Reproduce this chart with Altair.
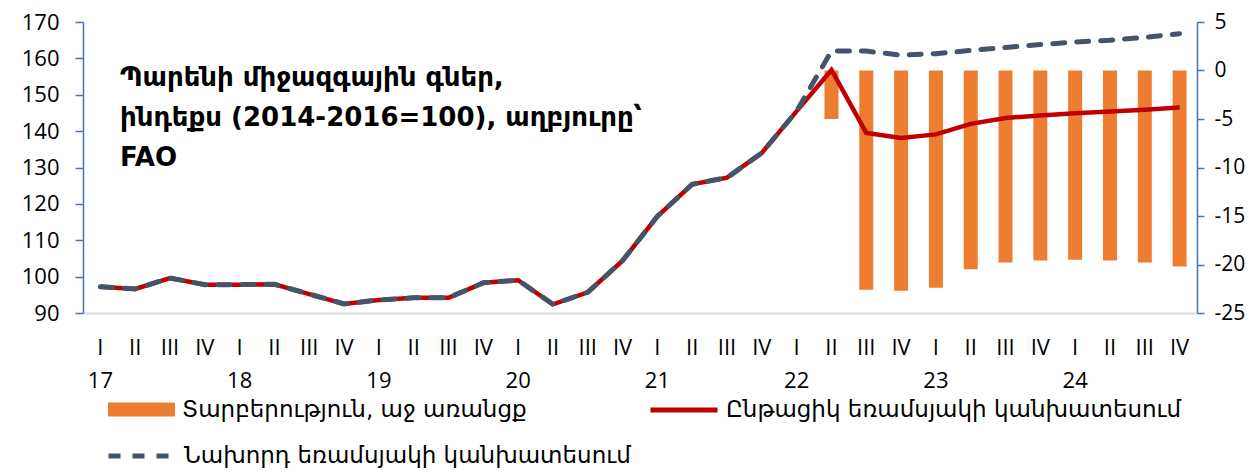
import altair as alt
import pandas as pd

# ---- data -------------------------------------------------------------
years = ["17", "18", "19", "20", "21", "22", "23", "24"]
quarters = ["I", "II", "III", "IV"]
periods = [f"{y} {q}" for y in years for q in quarters]

# common history 17Q1 .. 22Q1
history = [97.2, 96.6, 99.6, 97.8, 97.8, 97.9, 95.2, 92.5, 93.6, 94.2, 94.2,
           98.3, 99.0, 92.4, 95.7, 104.4, 116.6, 125.4, 127.2, 134.0, 145.5]
current_fc = [156.8, 139.5, 138.1, 139.1, 142.0, 143.6, 144.3, 144.9, 145.4, 145.9, 146.5]
previous_fc = [162.0, 162.0, 160.9, 161.3, 162.2, 163.0, 163.8, 164.5, 165.0, 165.8, 166.8]
difference = [None] * 19 + [0.0, 0.0] + [-5.0, -22.6, -22.7, -22.4, -20.5, -19.8,
                                          -19.6, -19.5, -19.6, -19.8, -20.2]

lab_diff = "Տարբերություն, աջ առանցք"
lab_cur = "Ընթացիկ եռամսյակի կանխատեսում"
lab_prev = "Նախորդ եռամսյակի կանխատեսում"
title_lines = ["Պարենի միջազգային գներ,",
               "ինդեքս (2014-2016=100), աղբյուրը՝",
               "FAO"]

df = pd.DataFrame({
    "period": periods,
    "current": history + current_fc,
    "previous": history + previous_fc,
    "diff": difference,
    "s_diff": lab_diff,
    "s_cur": lab_cur,
    "s_prev": lab_prev,
})

FONT = "Open Sans, DejaVu Sans"
ARM = "DejaVu Sans, Open Sans"
BLUE = "#4472C4"

x_enc = alt.X(
    "period:O", sort=periods, title=None,
    scale=alt.Scale(paddingInner=0, paddingOuter=0),
    axis=alt.Axis(
        labelAngle=0, ticks=False, domainColor="#D9D9D9", domainWidth=2,
        labelFont=FONT, labelFontSize=22, labelColor="#000000",
        labelBaseline="top", labelLineHeight=33, labelPadding=24,
        labelExpr="[split(datum.value, ' ')[1], split(datum.value, ' ')[1] == 'I' ? split(datum.value, ' ')[0] : '']",
        grid=False,
    ),
)

legend_common = dict(title=None, orient="none", padding=0, labelLimit=0,
                     labelFont=ARM, labelFontSize=23, labelColor="#000000")

bars = alt.Chart(df).mark_bar(size=14).encode(
    x=x_enc,
    y=alt.Y("diff:Q", title=None,
            scale=alt.Scale(domain=[-25, 5], nice=False),
            axis=alt.Axis(orient="right", values=[-25, -20, -15, -10, -5, 0, 5],
                          labelExpr="toString(datum.value)",
                          domainColor=BLUE, domainWidth=1.5, tickColor=BLUE,
                          tickWidth=1.5, tickSize=7, labelPadding=10,
                          labelFont=FONT, labelFontSize=21, labelColor="#000000",
                          grid=False)),
    fill=alt.Fill("s_diff:N", scale=alt.Scale(domain=[lab_diff], range=["#ED7D31"]),
                  legend=alt.Legend(legendX=25, legendY=354,
                                    symbolType="M-1,-0.21H1V0.21H-1Z", symbolSize=4489,
                                    symbolStrokeWidth=0, labelOffset=7, **legend_common)),
)

red = alt.Chart(df).mark_line(strokeWidth=4.5).encode(
    x=x_enc,
    y=alt.Y("current:Q", title=None,
            scale=alt.Scale(domain=[90, 170], nice=False, zero=False),
            axis=alt.Axis(orient="left", values=list(range(90, 171, 10)),
                          domainColor=BLUE, domainWidth=1.5, tickColor=BLUE,
                          tickWidth=1.5, tickSize=8, labelPadding=16,
                          labelFont=FONT, labelFontSize=22, labelColor="#000000",
                          grid=False)),
    stroke=alt.Stroke("s_cur:N", scale=alt.Scale(domain=[lab_cur], range=["#C00000"]),
                      legend=alt.Legend(legendX=565, legendY=352,
                                        symbolType="stroke", symbolSize=4489,
                                        symbolStrokeWidth=5, labelOffset=6, **legend_common)),
)

dashed = alt.Chart(df).mark_line(strokeWidth=5, color="#44546A", strokeCap="round").encode(
    x=x_enc,
    y=alt.Y("previous:Q", title=None,
            scale=alt.Scale(domain=[90, 170], nice=False, zero=False),
            axis=None),
    strokeDash=alt.StrokeDash("s_prev:N", scale=alt.Scale(domain=[lab_prev], range=[[12, 12]]),
                              legend=alt.Legend(legendX=23, legendY=398,
                                                symbolType="stroke", symbolSize=4489,
                                                symbolStrokeWidth=5, symbolStrokeColor="#44546A",
                                                symbolDash=[14, 8],
                                                labelOffset=6, **legend_common)),
)

title = alt.Chart(pd.DataFrame({"t": ["\n".join(title_lines)]})).mark_text(
    align="left", baseline="alphabetic", font=ARM, fontSize=26, fontWeight="bold",
    lineBreak="\n", lineHeight=40, color="#000000",
).encode(x=alt.value(37), y=alt.value(64), text="t:N")

chart = alt.layer(bars, red, dashed, title).resolve_scale(
    y="independent", fill="independent", stroke="independent", strokeDash="independent"
).properties(
    width=1114, height=291,
    autosize=alt.AutoSizeParams(type="none"),
    padding={"left": 75, "top": 14, "right": 50, "bottom": 155},
).configure_view(stroke=None)

chart.save("out.html", embed_options={"renderer": "svg", "actions": False})
